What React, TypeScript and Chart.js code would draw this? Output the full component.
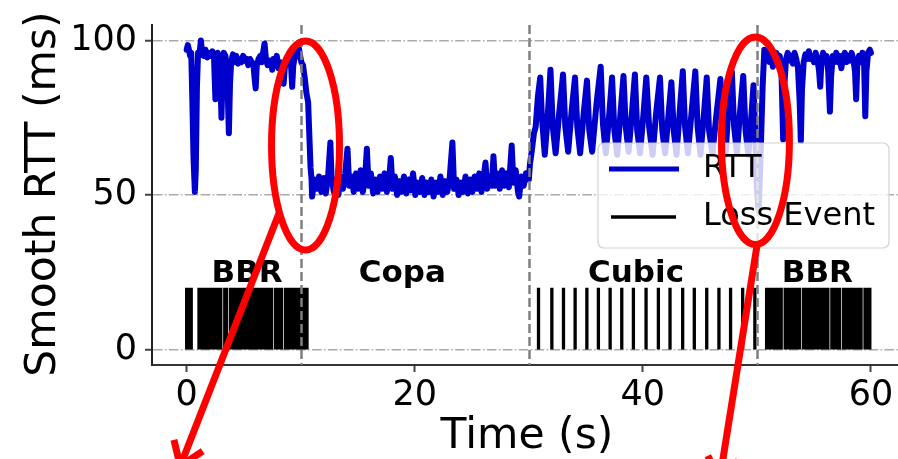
import React, { useEffect, useRef } from "react";
import { Chart, registerables } from "chart.js";

Chart.register(...registerables);

// ---------------- data ----------------
// Smooth RTT samples [time (s), RTT (ms)] per congestion-control phase
const rttBbrStart: [number, number][] = [
  [0.0, 97], [0.1, 98.5], [0.2, 97], [0.3, 95], [0.4, 96], [0.5, 80], [0.6, 62], [0.72, 51], [0.8, 58], [0.9, 85],
  [1.0, 96], [1.1, 95], [1.25, 100], [1.35, 96], [1.5, 95], [1.65, 97], [1.8, 94.5], [1.95, 96], [2.1, 95], [2.25, 96.5],
  [2.4, 94], [2.52, 81], [2.62, 93], [2.72, 96], [2.85, 92], [2.95, 88], [3.05, 75], [3.15, 90], [3.25, 96], [3.4, 95],
  [3.55, 90], [3.7, 70], [3.8, 86], [3.9, 93], [4.05, 95.5], [4.2, 93], [4.35, 95], [4.5, 92.5], [4.65, 94], [4.8, 93],
  [4.95, 95], [5.1, 93.5], [5.25, 94], [5.4, 92], [5.55, 94], [5.7, 93], [5.85, 92.5], [5.95, 88], [6.05, 84.5], [6.15, 92],
  [6.3, 94], [6.45, 95], [6.6, 93], [6.7, 96], [6.83, 99], [6.95, 94], [7.1, 92], [7.25, 93.5], [7.4, 93], [7.5, 90.5],
  [7.6, 94], [7.75, 92], [7.9, 95], [8.05, 91], [8.2, 93], [8.35, 92], [8.5, 86], [8.6, 91], [8.75, 94], [8.9, 93],
  [9.05, 96], [9.15, 92], [9.25, 85], [9.35, 92], [9.5, 95], [9.65, 97], [9.8, 98.5], [9.9, 96], [10.05, 93], [10.2, 92],
  [10.35, 88], [10.5, 83], [10.65, 80], [10.75, 70], [10.86, 59], [10.95, 55],
];

const rttCopa: [number, number][] = [
  [11.0, 49.5], [11.2, 55], [11.4, 52], [11.6, 56], [11.8, 51], [12.0, 55.5], [12.2, 50.5], [12.4, 56], [12.6, 67], [12.7, 56],
  [12.9, 51], [13.1, 55], [13.3, 50], [13.5, 56], [13.7, 52], [13.9, 57], [14.1, 65], [14.25, 53], [14.45, 56], [14.65, 51],
  [14.85, 57], [15.05, 52], [15.25, 58], [15.45, 51], [15.65, 56], [15.8, 65], [15.95, 53], [16.15, 57], [16.35, 50.5], [16.55, 55],
  [16.75, 51], [16.95, 56], [17.15, 52], [17.35, 57], [17.55, 51], [17.75, 55], [17.9, 62], [18.05, 52], [18.25, 56], [18.45, 50],
  [18.65, 54.5], [18.85, 51], [19.05, 56], [19.25, 50.5], [19.45, 55], [19.65, 51.5], [19.85, 57], [20.05, 50], [20.25, 54], [20.45, 51],
  [20.65, 55.5], [20.85, 50], [21.05, 54], [21.25, 51], [21.45, 55], [21.65, 49.5], [21.85, 54], [22.05, 51], [22.25, 56], [22.45, 50],
  [22.65, 54.5], [22.85, 51], [23.05, 55], [23.3, 67], [23.45, 52], [23.65, 55], [23.85, 50], [24.05, 54], [24.25, 51], [24.45, 56],
  [24.65, 50.5], [24.85, 55], [25.05, 51], [25.25, 56], [25.45, 52], [25.65, 57], [25.85, 51], [26.05, 56], [26.2, 60.5], [26.35, 52],
  [26.55, 56], [26.75, 53], [26.9, 62.5], [27.05, 53], [27.25, 57], [27.45, 52], [27.65, 58], [27.85, 53], [28.05, 57], [28.25, 52.5],
  [28.5, 66], [28.65, 54], [28.85, 58], [29.05, 51], [29.15, 49.5], [29.35, 56], [29.55, 53], [29.75, 57], [29.9, 55],
];

const rttCubic: [number, number][] = [
  [30.0, 55], [30.1, 60], [30.25, 64], [30.45, 70], [30.6, 72], [30.8, 82], [31.0, 88], [31.15, 75], [31.4, 63], [31.65, 75],
  [31.9, 90.5], [32.1, 72], [32.35, 63.5], [32.65, 76], [33.0, 89], [33.2, 72], [33.45, 64], [33.75, 77], [34.05, 88], [34.25, 72],
  [34.5, 63.5], [34.8, 76], [35.1, 87], [35.3, 71], [35.55, 64], [35.95, 80], [36.3, 91.5], [36.5, 73], [36.75, 63.5], [37.05, 76],
  [37.3, 88], [37.5, 71], [37.75, 63], [38.05, 77], [38.3, 88.5], [38.5, 72], [38.75, 64], [39.05, 77], [39.3, 89], [39.5, 71],
  [39.75, 63.5], [40.05, 76], [40.3, 88], [40.55, 72], [40.85, 63], [41.15, 76], [41.5, 88], [41.7, 71], [41.95, 63.5], [42.25, 76],
  [42.5, 86.5], [42.7, 71], [42.95, 63], [43.25, 78], [43.5, 90], [43.7, 72], [43.95, 63.5], [44.3, 78], [44.6, 90], [44.8, 72],
  [45.05, 63], [45.35, 76], [45.6, 88], [45.8, 71], [46.1, 63.5], [46.45, 76], [46.8, 87.5], [47.0, 71], [47.25, 63], [47.5, 78],
  [47.8, 90], [48.0, 72], [48.25, 63.5], [48.5, 76], [48.8, 88.5], [49.0, 71], [49.25, 63], [49.5, 75], [49.7, 85.5], [49.85, 70],
  [50.0, 52], [50.15, 45], [50.3, 60], [50.5, 85],
];

const rttBbrEnd: [number, number][] = [
  [50.65, 97], [50.8, 95], [50.95, 96.5], [51.1, 93], [51.25, 95], [51.4, 91.5], [51.55, 94], [51.7, 96], [51.85, 93], [52.0, 95],
  [52.15, 90], [52.3, 68], [52.4, 85], [52.55, 94], [52.7, 96], [52.85, 93.5], [53.0, 95], [53.15, 92.5], [53.3, 96], [53.45, 94],
  [53.6, 91], [53.75, 80], [53.85, 67.5], [53.95, 84], [54.1, 93], [54.25, 95.5], [54.4, 94], [54.55, 96.5], [54.7, 94], [54.85, 95],
  [55.0, 93], [55.15, 96], [55.3, 94], [55.45, 90], [55.55, 85], [55.65, 93], [55.8, 96], [55.95, 93], [56.1, 95], [56.25, 90],
  [56.4, 77], [56.5, 88], [56.65, 95], [56.8, 93], [56.95, 96], [57.1, 93], [57.25, 95], [57.4, 91], [57.55, 94.5], [57.7, 96],
  [57.85, 93], [58.0, 95], [58.15, 93.5], [58.3, 96], [58.45, 94], [58.6, 90], [58.7, 81], [58.8, 92], [58.95, 95], [59.1, 93],
  [59.25, 96], [59.4, 92], [59.5, 75.5], [59.6, 90], [59.75, 96], [59.9, 97], [60.0, 96],
];

// Loss event times (s)
const lossBbrStart: number[] = [
  0.0, 0.2, 0.4, 1.08, 1.28, 1.48, 1.68, 1.88, 2.08, 2.28, 2.48, 2.68, 2.85, 2.99, 3.34, 3.5, 3.85, 4.05, 4.25, 4.45,
  4.65, 4.85, 5.05, 5.25, 5.45, 5.65, 5.85, 6.05, 6.25, 6.45, 6.65, 6.85, 7.05, 7.25, 7.44, 7.79, 7.99, 8.15, 8.32, 8.67,
  8.87, 9.07, 9.27, 9.47, 9.67, 9.87, 10.07, 10.27, 10.45, 10.55,
];
const lossCubic: number[] = [
  30.85, 32.02, 33.04, 34.06, 35.09, 36.1, 37.13, 38.15, 39.17, 40.28, 41.36, 42.38, 43.49, 44.51, 45.6, 46.67, 47.69, 48.75, 49.82,
];
const lossBbrEnd: number[] = [
  50.85, 51.05, 51.25, 51.45, 51.65, 51.85, 52.0, 52.13, 52.48, 52.68, 52.88, 53.08, 53.28, 53.48, 53.62, 53.74, 54.09, 54.29, 54.49, 54.69,
  54.89, 55.09, 55.29, 55.49, 55.69, 55.89, 56.05, 56.22, 56.57, 56.77, 56.97, 57.1, 57.24, 57.59, 57.79, 57.99, 58.19, 58.39, 58.59, 58.79,
  58.99, 59.13, 59.48, 59.68, 59.9,
];
const lossMarkerValue = 20;

const phaseNames = ["BBR", "Copa", "Cubic", "BBR"];
const phaseLabelX = [5.3, 18.9, 39.4, 55.3];
const phaseLabelY = 21.7;
const phaseBoundaries = [10, 30, 50];

const xTickValues = [0, 20, 40, 60];
const yTickValues = [0, 50, 100];
const xTitle = "Time (s)";
const yTitle = "Smooth RTT (ms)";
const legendLabels = ["RTT", "Loss Event"];

// highlight annotations, in data units
const highlightEllipses = [
  { cx: 10.42, cy: 66.0, rx: 2.98, ry: 33.8 },
  { cx: 49.87, cy: 67.55, rx: 2.98, ry: 33.6 },
];
const highlightArrows = [
  { x0: 8.14, y0: 44.5, x1: -0.56, y1: -37.7 },
  { x0: 50.0, y0: 33.5, x1: 46.73, y1: -42.2 },
];

// ---------------- chart ----------------
const FONT = "'DejaVu Sans', 'Noto Sans', sans-serif";
const RTT_COLOR = "#0000cc";

const overlayPlugin = {
  id: "overlay",
  afterDatasetsDraw(chart: any) {
    const { ctx, chartArea, scales } = chart;
    const xs = scales.x;
    const ys = scales.y;
    const px = (v: number) => xs.getPixelForValue(v);
    const py = (v: number) => ys.getPixelForValue(v);

    // phase boundaries
    ctx.save();
    ctx.strokeStyle = "#7f7f7f";
    ctx.lineWidth = 2.5;
    ctx.setLineDash([9, 4]);
    for (const b of phaseBoundaries) {
      const x = Math.round(px(b)) + 0.5;
      ctx.beginPath();
      ctx.moveTo(x, chartArea.top);
      ctx.lineTo(x, chartArea.bottom);
      ctx.stroke();
    }
    ctx.restore();

    // phase names
    ctx.save();
    ctx.fillStyle = "#000";
    ctx.font = `bold 31px ${FONT}`;
    ctx.textAlign = "center";
    ctx.textBaseline = "alphabetic";
    phaseNames.forEach((n, i) => ctx.fillText(n, px(phaseLabelX[i]), py(phaseLabelY)));
    ctx.restore();

    // axis titles
    ctx.save();
    ctx.fillStyle = "#000";
    ctx.font = `42.5px ${FONT}`;
    ctx.textAlign = "center";
    ctx.textBaseline = "alphabetic";
    ctx.fillText(xTitle, (chartArea.left + chartArea.right) / 2 + 2, chartArea.bottom + 82.5);
    ctx.translate(chartArea.left - 97, (chartArea.top + chartArea.bottom) / 2 - 1);
    ctx.rotate(-Math.PI / 2);
    ctx.fillText(yTitle, 0, 0);
    ctx.restore();

    // legend
    ctx.save();
    const bx = chartArea.right - 300;
    const by = chartArea.top + 118;
    const bw = 291;
    const bh = 105;
    ctx.beginPath();
    ctx.roundRect(bx, by, bw, bh, 6);
    ctx.fillStyle = "rgba(255,255,255,0.8)";
    ctx.fill();
    ctx.strokeStyle = "rgba(204,204,204,0.9)";
    ctx.lineWidth = 1.2;
    ctx.stroke();
    ctx.lineCap = "butt";
    ctx.strokeStyle = RTT_COLOR;
    ctx.lineWidth = 5;
    ctx.beginPath();
    ctx.moveTo(bx + 11, by + 26);
    ctx.lineTo(bx + 81, by + 26);
    ctx.stroke();
    ctx.strokeStyle = "#000";
    ctx.lineWidth = 3.3;
    ctx.beginPath();
    ctx.moveTo(bx + 13, by + 74);
    ctx.lineTo(bx + 78, by + 74);
    ctx.stroke();
    ctx.fillStyle = "#000";
    ctx.font = `32px ${FONT}`;
    ctx.textAlign = "left";
    ctx.textBaseline = "middle";
    ctx.fillText(legendLabels[0], bx + 105, by + 26);
    ctx.fillText(legendLabels[1], bx + 105, by + 74);
    ctx.restore();

    // highlight ellipses and arrows
    ctx.save();
    ctx.strokeStyle = "#ff0000";
    ctx.lineWidth = 7;
    for (const e of highlightEllipses) {
      const cx = px(e.cx);
      const cy = py(e.cy);
      const rx = Math.abs(px(e.cx + e.rx) - cx);
      const ry = Math.abs(py(e.cy + e.ry) - cy);
      ctx.beginPath();
      ctx.ellipse(cx, cy, rx, ry, 0, 0, Math.PI * 2);
      ctx.stroke();
    }
    ctx.lineCap = "butt";
    ctx.lineJoin = "miter";
    for (const a of highlightArrows) {
      const sx = px(a.x0), sy = py(a.y0), ex = px(a.x1), ey = py(a.y1);
      ctx.beginPath();
      ctx.moveTo(sx, sy);
      ctx.lineTo(ex, ey);
      ctx.stroke();
      const ang = Math.atan2(sy - ey, sx - ex);
      const L = 27;
      const th = (35 * Math.PI) / 180;
      ctx.beginPath();
      ctx.moveTo(ex + L * Math.cos(ang + th), ey + L * Math.sin(ang + th));
      ctx.lineTo(ex, ey);
      ctx.lineTo(ex + L * Math.cos(ang - th), ey + L * Math.sin(ang - th));
      ctx.stroke();
    }
    ctx.restore();
  },
};

export default function App() {
  const ref = useRef<HTMLCanvasElement | null>(null);

  useEffect(() => {
    const canvas = ref.current;
    if (!canvas) return;

    const rttPoints = [...rttBbrStart, ...rttCopa, ...rttCubic, ...rttBbrEnd].map(([t, v]) => ({ x: t, y: v }));
    const lossPoints: { x: number; y: number | null }[] = [];
    for (const t of [...lossBbrStart, ...lossCubic, ...lossBbrEnd]) {
      lossPoints.push({ x: t, y: 0 }, { x: t, y: lossMarkerValue }, { x: t, y: null });
    }

    const chart = new Chart(canvas, {
      type: "line",
      data: {
        datasets: [
          {
            label: legendLabels[0],
            data: rttPoints as any,
            borderColor: RTT_COLOR,
            borderWidth: 6,
            pointRadius: 0,
            tension: 0,
            borderJoinStyle: "round",
            borderCapStyle: "round",
            order: 1,
          },
          {
            label: legendLabels[1],
            data: lossPoints as any,
            borderColor: "#000",
            borderWidth: 3.3,
            pointRadius: 0,
            spanGaps: false,
            borderCapStyle: "butt",
            order: 2,
          },
        ],
      },
      options: {
        animation: false,
        responsive: false,
        devicePixelRatio: 1,
        events: [],
        layout: { padding: { top: 25, left: 0, right: 0, bottom: 0 } },
        plugins: { legend: { display: false }, tooltip: { enabled: false } },
        scales: {
          x: {
            type: "linear",
            min: -3.04,
            max: 62.37,
            afterBuildTicks: (s: any) => {
              s.ticks = xTickValues.map((v) => ({ value: v }));
            },
            afterFit: (s: any) => {
              s.height = 94;
              s.paddingLeft = 0;
              s.paddingRight = 0;
            },
            grid: { display: true, drawOnChartArea: false, drawTicks: true, tickLength: 7, tickWidth: 2, tickColor: "#444" },
            border: { display: true, color: "#333", width: 2 },
            ticks: { color: "#000", font: { family: FONT, size: 35 }, padding: 3, maxRotation: 0, autoSkip: false },
            title: { display: false },
          },
          y: {
            type: "linear",
            min: -5,
            max: 105,
            afterBuildTicks: (s: any) => {
              s.ticks = yTickValues.map((v) => ({ value: v }));
            },
            afterFit: (s: any) => {
              s.width = 152;
              s.paddingTop = 0;
              s.paddingBottom = 0;
            },
            grid: { display: true, color: "#aaaaaa", lineWidth: 1.5, drawTicks: true, tickLength: 7, tickWidth: 2, tickColor: "#444" },
            border: { display: true, color: "#222", width: 2, dash: [9.6, 2.4, 1.5, 2.4] },
            ticks: { color: "#000", font: { family: FONT, size: 35 }, padding: 8 },
            title: { display: false },
          },
        },
      },
      plugins: [overlayPlugin],
    } as any);

    return () => chart.destroy();
  }, []);

  return (
    <div style={{ position: "fixed", left: 0, top: 0, width: 898, height: 459, background: "#fff" }}>
      <canvas ref={ref} width={898} height={459} style={{ display: "block", width: 898, height: 459 }} />
    </div>
  );
}
